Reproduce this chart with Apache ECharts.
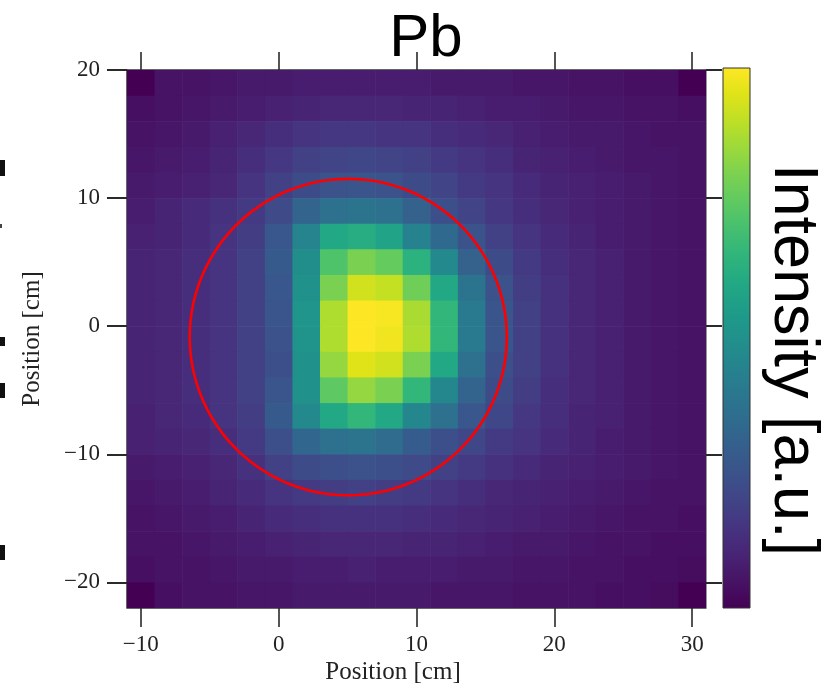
<!DOCTYPE html>
<html><head><meta charset="utf-8">
<script src="https://cdn.jsdelivr.net/npm/echarts@6/dist/echarts.min.js"></script>
<style>html,body{margin:0;padding:0;background:#fff}#c{width:821px;height:689px}</style>
</head><body><div id="c"></div>
<script>
// ---- data ----
const xCenters = [-10,-8,-6,-4,-2,0,2,4,6,8,10,12,14,16,18,20,22,24,26,28,30];
const yCenters = [19,17,15,13,11,9,7,5,3,1,-1,-3,-5,-7,-9,-11,-13,-15,-17,-19,-21];
const binSize = [2, 2];
// intensity rows, top (y=19) to bottom (y=-21), columns x=-10..30
const intensity = [
  [0.00,0.05,0.05,0.06,0.07,0.07,0.08,0.08,0.08,0.08,0.08,0.07,0.07,0.07,0.06,0.06,0.05,0.05,0.04,0.04,0.00],
  [0.04,0.05,0.06,0.07,0.08,0.09,0.10,0.11,0.11,0.11,0.10,0.10,0.09,0.08,0.08,0.07,0.06,0.06,0.05,0.05,0.04],
  [0.05,0.06,0.07,0.09,0.11,0.13,0.15,0.16,0.16,0.15,0.15,0.13,0.12,0.11,0.09,0.08,0.07,0.07,0.06,0.05,0.05],
  [0.06,0.07,0.08,0.10,0.13,0.16,0.19,0.20,0.21,0.20,0.19,0.17,0.15,0.13,0.10,0.09,0.08,0.07,0.06,0.06,0.05],
  [0.07,0.08,0.09,0.11,0.15,0.19,0.23,0.25,0.26,0.25,0.23,0.20,0.17,0.15,0.12,0.10,0.09,0.08,0.07,0.06,0.05],
  [0.08,0.10,0.12,0.14,0.17,0.22,0.32,0.37,0.38,0.37,0.31,0.24,0.20,0.16,0.13,0.11,0.09,0.08,0.07,0.06,0.05],
  [0.09,0.10,0.12,0.15,0.18,0.27,0.45,0.60,0.62,0.58,0.44,0.34,0.25,0.19,0.15,0.12,0.10,0.08,0.07,0.06,0.05],
  [0.10,0.11,0.13,0.15,0.19,0.28,0.49,0.72,0.80,0.76,0.64,0.47,0.31,0.23,0.17,0.13,0.11,0.09,0.07,0.06,0.05],
  [0.10,0.11,0.13,0.15,0.19,0.27,0.50,0.80,0.93,0.91,0.78,0.60,0.38,0.25,0.18,0.14,0.11,0.09,0.07,0.06,0.05],
  [0.10,0.11,0.13,0.15,0.19,0.26,0.52,0.88,1.00,0.99,0.87,0.66,0.41,0.26,0.19,0.14,0.11,0.09,0.07,0.06,0.05],
  [0.10,0.11,0.13,0.15,0.19,0.25,0.51,0.88,1.00,0.98,0.88,0.66,0.41,0.26,0.19,0.14,0.11,0.09,0.07,0.06,0.05],
  [0.10,0.11,0.13,0.15,0.19,0.24,0.50,0.84,0.95,0.93,0.80,0.60,0.37,0.24,0.19,0.14,0.11,0.09,0.07,0.06,0.05],
  [0.10,0.11,0.13,0.15,0.19,0.26,0.50,0.75,0.84,0.80,0.66,0.46,0.32,0.23,0.18,0.13,0.11,0.09,0.07,0.06,0.05],
  [0.09,0.11,0.12,0.15,0.18,0.28,0.47,0.60,0.66,0.60,0.46,0.37,0.27,0.21,0.16,0.13,0.10,0.09,0.07,0.06,0.05],
  [0.09,0.10,0.11,0.13,0.17,0.24,0.33,0.37,0.38,0.35,0.29,0.24,0.21,0.17,0.15,0.12,0.10,0.08,0.07,0.06,0.05],
  [0.07,0.08,0.09,0.11,0.14,0.19,0.23,0.24,0.25,0.24,0.22,0.19,0.17,0.14,0.12,0.10,0.09,0.08,0.07,0.06,0.05],
  [0.06,0.07,0.08,0.10,0.12,0.15,0.17,0.18,0.19,0.18,0.17,0.15,0.13,0.11,0.10,0.09,0.08,0.07,0.06,0.05,0.05],
  [0.05,0.06,0.07,0.08,0.10,0.12,0.13,0.14,0.14,0.14,0.13,0.12,0.11,0.10,0.09,0.08,0.07,0.06,0.05,0.05,0.04],
  [0.05,0.05,0.06,0.07,0.08,0.09,0.10,0.11,0.11,0.11,0.10,0.10,0.09,0.08,0.07,0.07,0.06,0.05,0.05,0.04,0.04],
  [0.04,0.05,0.05,0.06,0.07,0.07,0.08,0.08,0.09,0.08,0.08,0.08,0.07,0.07,0.06,0.06,0.05,0.05,0.04,0.04,0.03],
  [0.00,0.04,0.05,0.05,0.06,0.06,0.07,0.07,0.07,0.07,0.07,0.06,0.06,0.06,0.05,0.05,0.05,0.04,0.04,0.03,0.00]
];
const xTicks = [-10, 0, 10, 20, 30];
const yTicks = [-20, -10, 0, 10, 20];
const colorbarTicks = [0.087,0.187,0.285,0.385,0.485,0.583,0.683,0.783,0.881,0.981];
// fitted circle: center x, center y, radius x, radius y (cm)
const circleFit = [5.05, -0.85, 11.5, 12.35];
const titleText = 'Pb';
const axisTitle = 'Position [cm]';
const colorbarTitle = 'Intensity [a.u.]';

// ---- style ----
const viridis = ['#440154','#471365','#482475','#463480','#414487','#3b528b','#355f8d','#2f6c8e','#2a788e','#25848e','#21918c','#1e9c89','#22a884','#2fb47c','#44bf70','#5ec962','#7ad151','#9bd93c','#bddf26','#dfe318','#fde725'];

const heatData = [];
yCenters.forEach((y, j) => xCenters.forEach((x, i) => heatData.push([x, y, intensity[j][i]])));
let vMin = Infinity, vMax = -Infinity;
intensity.forEach(r => r.forEach(v => { vMin = Math.min(vMin, v); vMax = Math.max(vMax, v); }));

const minus = v => String(v).replace('-', '\u2212');
const tickCol = '#2a2a2a';
const serif = '"Liberation Serif", "DejaVu Serif", serif';
const sans = '"Liberation Sans", Arial, sans-serif';

const chart = echarts.init(document.getElementById('c'), null, {renderer: 'canvas'});
chart.setOption({
  animation: false,
  backgroundColor: '#fff',
  grid: [
    {left: 127, top: 70, width: 579, height: 538},
    {left: 723, top: 68, width: 27, height: 540}
  ],
  xAxis: [
    {type: 'value', gridIndex: 0, position: 'bottom', min: -11, max: 31,
     axisLine: {show: true, onZero: false, lineStyle: {color: '#666', width: 1}},
     axisTick: {show: true, inside: false, length: 19, customValues: xTicks, lineStyle: {color: tickCol, width: 1.6}},
     axisLabel: {show: true, customValues: xTicks, margin: 25, formatter: minus, fontFamily: serif, fontSize: 23, color: '#222'},
     splitLine: {show: false}},
    {type: 'value', gridIndex: 0, position: 'top', min: -11, max: 31,
     axisLine: {show: true, onZero: false, lineStyle: {color: '#333', width: 1.5}},
     axisTick: {show: true, inside: false, length: 18, customValues: xTicks, lineStyle: {color: tickCol, width: 1.6}},
     axisLabel: {show: false}, splitLine: {show: false}},
    {type: 'value', gridIndex: 1, min: 0, max: 1, show: false}
  ],
  yAxis: [
    {type: 'value', gridIndex: 0, position: 'left', min: -22, max: 20,
     axisLine: {show: true, onZero: false, lineStyle: {color: '#333', width: 1.5}},
     axisTick: {show: true, inside: false, length: 20, customValues: yTicks, lineStyle: {color: tickCol, width: 2}},
     axisLabel: {show: true, customValues: yTicks, margin: 27, formatter: minus, fontFamily: serif, fontSize: 23, color: '#222'},
     splitLine: {show: false}},
    {type: 'value', gridIndex: 0, position: 'right', min: -22, max: 20,
     axisLine: {show: true, onZero: false, lineStyle: {color: '#999', width: 1}},
     axisTick: {show: true, inside: false, length: 16, customValues: yTicks, lineStyle: {color: tickCol, width: 2}},
     axisLabel: {show: false}, splitLine: {show: false}},
    {type: 'value', gridIndex: 1, position: 'right', min: vMin, max: vMax,
     axisLine: {show: false},
     axisTick: {show: true, inside: false, length: 4, customValues: colorbarTicks, lineStyle: {color: '#333', width: 1}},
     axisLabel: {show: false}, splitLine: {show: false}}
  ],
  visualMap: [{type: 'continuous', show: false, seriesIndex: 0, dimension: 2, min: vMin, max: vMax, inRange: {color: viridis}}],
  series: [
    {type: 'custom', name: 'intensity', xAxisIndex: 0, yAxisIndex: 0, data: heatData, clip: true,
     encode: {x: 0, y: 1},
     renderItem: function (params, api) {
       const x = api.value(0), y = api.value(1);
       const p0 = api.coord([x - binSize[0] / 2, y + binSize[1] / 2]);
       const p1 = api.coord([x + binSize[0] / 2, y - binSize[1] / 2]);
       return {type: 'rect', shape: {x: p0[0], y: p0[1], width: p1[0] - p0[0] + 0.6, height: p1[1] - p0[1] + 0.6},
               style: {fill: api.visual('color')}};
     }},
    {type: 'custom', name: 'circle', xAxisIndex: 0, yAxisIndex: 0, data: [circleFit], clip: false,
     encode: {x: 0, y: 1},
     renderItem: function (params, api) {
       const c = api.coord([api.value(0), api.value(1)]);
       const s = api.size([api.value(2), api.value(3)]);
       const pts = [];
       for (let k = 0; k < 240; k++) {
         const a = k / 240 * Math.PI * 2;
         pts.push([c[0] + s[0] * Math.cos(a), c[1] + s[1] * Math.sin(a)]);
       }
       return {type: 'polygon', shape: {points: pts}, style: {fill: 'none', stroke: '#ff0000', lineWidth: 2.6}};
     }},
    {type: 'custom', name: 'colorbar', xAxisIndex: 2, yAxisIndex: 2, data: [[0, 1, vMin, vMax]], clip: false,
     encode: {x: 0, y: 2},
     renderItem: function (params, api) {
       const p0 = api.coord([api.value(0), api.value(3)]);
       const p1 = api.coord([api.value(1), api.value(2)]);
       const stops = viridis.slice().reverse().map((c, i, arr) => ({offset: i / (arr.length - 1), color: c}));
       return {type: 'rect', shape: {x: p0[0], y: p0[1], width: p1[0] - p0[0], height: p1[1] - p0[1]},
               style: {fill: new echarts.graphic.LinearGradient(0, 0, 0, 1, stops), stroke: '#333', lineWidth: 1}};
     }}
  ],
  graphic: [
    {type: 'text', x: 426, y: 39, style: {text: titleText, font: '60px ' + sans, fill: '#000', align: 'center', verticalAlign: 'middle'}},
    {type: 'text', x: 393, y: 672, style: {text: axisTitle, font: '25px ' + serif, fill: '#222', align: 'center', verticalAlign: 'middle'}},
    {type: 'text', x: 32, y: 339, rotation: Math.PI / 2, style: {text: axisTitle, font: '25px ' + serif, fill: '#222', align: 'center', verticalAlign: 'middle'}},
    {type: 'text', x: 792, y: 360, rotation: -Math.PI / 2, style: {text: colorbarTitle, font: '63px ' + sans, fill: '#000', align: 'center', verticalAlign: 'middle'}},
    {type: 'rect', shape: {x: 0, y: 160, width: 5, height: 16}, style: {fill: '#111'}},
    {type: 'rect', shape: {x: 0, y: 224, width: 2, height: 4}, style: {fill: '#444'}},
    {type: 'rect', shape: {x: 0, y: 337, width: 5, height: 9}, style: {fill: '#111'}},
    {type: 'rect', shape: {x: 0, y: 383, width: 5, height: 15}, style: {fill: '#111'}},
    {type: 'rect', shape: {x: 0, y: 545, width: 5, height: 15}, style: {fill: '#111'}}
  ]
});
</script></body></html>
